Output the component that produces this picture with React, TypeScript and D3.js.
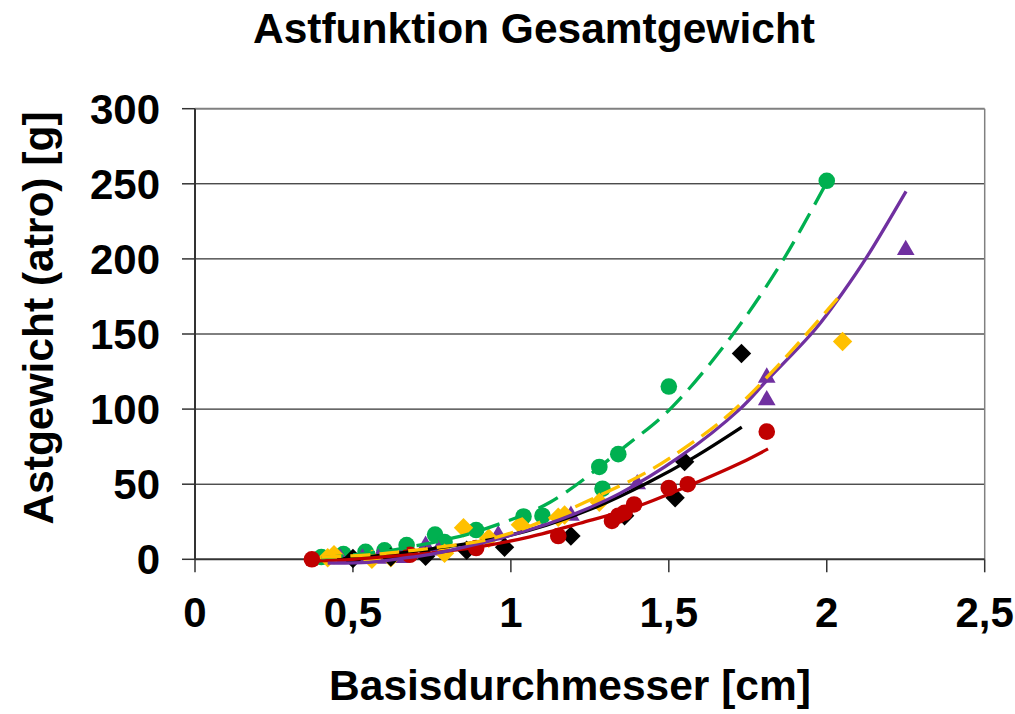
import React from "react";
import * as d3 from "d3";

// scatter points (diameter in cm, dry weight in g)
const redX = [0.37, 0.68, 0.89, 1.15, 1.32, 1.34, 1.36, 1.39, 1.5, 1.56, 1.81];
const redY = [0, 3, 7.5, 15.5, 25.5, 29, 31, 36.5, 47.5, 50, 85];
const blackX = [0.5, 0.62, 0.73, 0.86, 0.98, 1.19, 1.36, 1.52, 1.55, 1.73];
const blackY = [0.5, 1.5, 2, 6, 8, 15.5, 29, 41, 65, 137];
const greenX = [0.4, 0.47, 0.54, 0.6, 0.67, 0.76, 0.79, 0.89, 1.04, 1.1, 1.28, 1.29, 1.34, 1.5, 2.0];
const greenY = [1.5, 3.5, 5, 6, 9.5, 16.5, 11.5, 19.5, 28.5, 29, 61.5, 47, 70, 115, 252];
const orangeX = [0.42, 0.44, 0.56, 0.62, 0.79, 0.85, 0.93, 1.03, 1.15, 1.17, 1.28, 2.05];
const orangeY = [1, 3, 0, 1, 4, 21, 14, 23, 28, 29.5, 38, 145];
const purpleX = [0.46, 0.53, 0.58, 0.65, 0.73, 0.77, 0.96, 1.19, 1.4, 1.81, 1.81, 2.25];
const purpleY = [0.5, 0.5, 0.5, 1, 9, 6, 16, 29, 50, 106, 121, 206];

// trend lines
const redTrendX = [0.38, 0.5, 0.65, 0.78, 0.902, 1.06, 1.219, 1.398, 1.556, 1.725, 1.814];
const redTrendY = [-1, 0, 2.5, 5, 8.4, 15, 24, 35, 48.3, 63.9, 73.5];
const blackTrendX = [0.45, 0.6, 0.75, 0.955, 1.113, 1.272, 1.43, 1.577, 1.731];
const blackTrendY = [0, 3, 7, 14, 22.8, 35, 50.6, 67.5, 88];
const greenTrendX = [0.4, 0.6, 0.8, 0.923, 1.124, 1.367, 1.504, 1.7, 1.861, 2.0];
const greenTrendY = [1, 5.4, 13.4, 20.6, 38, 76, 100, 149, 199, 251];
const orangeTrendX = [0.4, 0.55, 0.65, 0.75, 0.923, 1.06, 1.25, 1.43, 1.556, 1.683, 1.85, 2.052];
const orangeTrendY = [1.5, 3, 5, 7.5, 13, 22, 39.5, 58, 75, 95, 130, 178];
const purpleTrendX = [0.42, 0.55, 0.65, 0.75, 0.902, 1.008, 1.166, 1.345, 1.535, 1.725, 1.81, 1.963, 2.052, 2.126, 2.251];
const purpleTrendY = [-2.5, -2, 0.5, 3.5, 10.6, 16.5, 27.3, 43.9, 68.3, 100, 119, 153, 178, 201, 245];

const xTicks = [0, 0.5, 1, 1.5, 2, 2.5];
const yTicks = [0, 50, 100, 150, 200, 250, 300];

const W = 1015;
const H = 714;
const FONT = "'Liberation Sans', Arial, sans-serif";

const zip = (xs: number[], ys: number[]) => xs.map((x, i) => [x, ys[i]] as [number, number]);

export default function App() {
    const x = d3.scaleLinear().domain([0, 2.5]).range([195, 984.7]);
    const y = d3.scaleLinear().domain([0, 300]).range([559.3, 108.7]);

    const line = d3.line<[number, number]>()
        .x(d => x(d[0]))
        .y(d => y(d[1]))
        .curve(d3.curveCatmullRom.alpha(0.5));

    const circle = d3.symbol(d3.symbolCircle, Math.PI * 8.3 * 8.3)();
    const diamond = d3.symbol(d3.symbolDiamond2, 240)();
    const triangle = d3.symbol(d3.symbolTriangle, 135)();

    const fmt = (v: number) => String(v).replace(".", ",");

    const markers = [
        { xs: greenX, ys: greenY, shape: circle, color: "#00B050" },
        { xs: purpleX, ys: purpleY, shape: triangle, color: "#7030A0" },
        { xs: orangeX, ys: orangeY, shape: diamond, color: "#FFC000" },
        { xs: blackX, ys: blackY, shape: diamond, color: "#000000" },
        { xs: redX, ys: redY, shape: circle, color: "#C00000" },
    ];

    const trends = [
        { xs: blackTrendX, ys: blackTrendY, color: "#000000", dash: null },
        { xs: redTrendX, ys: redTrendY, color: "#C00000", dash: null },
        { xs: greenTrendX, ys: greenTrendY, color: "#00B050", dash: "22,10" },
        { xs: purpleTrendX, ys: purpleTrendY, color: "#7030A0", dash: null },
        { xs: orangeTrendX, ys: orangeTrendY, color: "#FFC000", dash: "20,9" },
    ];

    return (
        <svg width={W} height={H} style={{ position: "absolute", left: 0, top: 0, background: "#fff" }}
            fontFamily={FONT} fontWeight="bold">
            {/* gridlines */}
            {yTicks.slice(1, -1).map(t => (
                <line key={"g" + t} x1={x(0)} x2={x(2.5)} y1={y(t)} y2={y(t)} stroke="#000" strokeWidth={1} />
            ))}
            {/* plot border top / right */}
            <line x1={x(0)} x2={x(2.5)} y1={y(300)} y2={y(300)} stroke="#808080" strokeWidth={2} />
            <line x1={x(2.5)} x2={x(2.5)} y1={y(300)} y2={y(0)} stroke="#808080" strokeWidth={1.5} />

            {/* axes */}
            <line x1={x(0)} x2={x(2.5)} y1={y(0)} y2={y(0)} stroke="#333" strokeWidth={2} />
            <line x1={x(0)} x2={x(0)} y1={y(300)} y2={y(0)} stroke="#333" strokeWidth={2} />
            {xTicks.map(t => (
                <g key={"x" + t}>
                    <line x1={x(t)} x2={x(t)} y1={y(0)} y2={y(0) + 13} stroke="#333" strokeWidth={1.5} />
                    <text x={x(t)} y={627} textAnchor="middle" fontSize={42}>{fmt(t)}</text>
                </g>
            ))}
            {yTicks.map(t => (
                <g key={"y" + t}>
                    <line x1={x(0) - 13} x2={x(0)} y1={y(t)} y2={y(t)} stroke="#333" strokeWidth={1.5} />
                    <text x={160} y={y(t) + 15} textAnchor="end" fontSize={42}>{t}</text>
                </g>
            ))}

            {/* markers */}
            {markers.map((m, si) => (
                <g key={"m" + si} fill={m.color}>
                    {zip(m.xs, m.ys).map((p, i) => (
                        <path key={i} d={m.shape ?? ""} transform={`translate(${x(p[0])},${y(p[1])})`} />
                    ))}
                </g>
            ))}

            {/* trend lines */}
            {trends.map((t, i) => (
                <path key={"t" + i} d={line(zip(t.xs, t.ys)) ?? ""} fill="none" stroke={t.color}
                    strokeWidth={3.3} strokeDasharray={t.dash ?? undefined} />
            ))}

            {/* titles */}
            <text x={534} y={43} textAnchor="middle" fontSize={42.5}>Astfunktion Gesamtgewicht</text>
            <text x={570} y={700} textAnchor="middle" fontSize={42.5}>Basisdurchmesser [cm]</text>
            <text transform={`translate(53,318) rotate(-90)`} textAnchor="middle" fontSize={42.5}>Astgewicht (atro) [g]</text>
        </svg>
    );
}
